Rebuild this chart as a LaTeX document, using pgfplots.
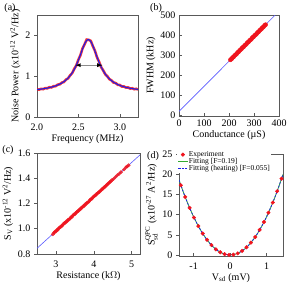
\documentclass[border=0pt]{standalone}
\usepackage{fontspec}
\setmainfont{Liberation Serif}
\usepackage{amsmath}
\usepackage{pgfplots}
\pgfplotsset{compat=1.18}
\definecolor{myred}{RGB}{240,20,30}
\definecolor{myblue}{RGB}{30,30,230}
\definecolor{lblue}{RGB}{90,90,255}
\definecolor{mygreen}{RGB}{50,170,50}
\begin{document}
\begin{tikzpicture}
\useasboundingbox (0,0) rectangle (292pt,282pt);
\pgfplotsset{
  every axis/.append style={
    scale only axis,
    anchor=north west,
    font=\fontsize{10}{12}\selectfont,
    /pgf/number format/assume math mode=true,
    axis line style={black!65},
    tick style={black!65, line width=0.5pt},
    major tick length=3pt,
    xtick pos=bottom, ytick pos=left,
    tick label style={font=\fontsize{10}{12}\selectfont},
    label style={font=\fontsize{10}{12}\selectfont},
    ylabel style={yshift=-2pt},
    xlabel style={yshift=3pt},
  },
}
% ---------------- (a)
\node[font=\fontsize{10}{12}\selectfont] at (10pt,274pt) {(a)};
\begin{axis}[at={(37pt,267pt)}, width=101pt, height=102pt,
  xmin=2.0, xmax=3.22, ymin=0, ymax=2.5,
  xtick={2.0,2.5,3.0}, ytick={0,1,2},
  xticklabel style={/pgf/number format/.cd, fixed, fixed zerofill, precision=1},
  tick align=outside, x tick style={yshift=3pt},
  xlabel={Frequency (MHz)},
  ylabel={Noise Power (x10$^{\text{-12}}$ V$^{\text{2}}$/Hz)}]
\addplot[myred, line width=2.6pt, opacity=0.85] coordinates {
(2.000,0.682)(2.025,0.670)(2.050,0.690)(2.075,0.682)(2.100,0.708)(2.125,0.703)
(2.150,0.730)(2.175,0.725)(2.200,0.754)(2.225,0.755)(2.250,0.794)(2.275,0.800)
(2.300,0.842)(2.325,0.858)(2.350,0.917)(2.375,0.946)(2.400,1.022)(2.425,1.073)
(2.450,1.181)(2.475,1.262)(2.500,1.405)(2.525,1.516)(2.550,1.682)(2.575,1.783)
(2.600,1.897)(2.625,1.890)(2.650,1.865)(2.675,1.734)(2.700,1.624)(2.725,1.462)
(2.750,1.352)(2.775,1.221)(2.800,1.142)(2.825,1.044)(2.850,0.998)(2.875,0.926)
(2.900,0.898)(2.925,0.844)(2.950,0.833)(2.975,0.790)(3.000,0.784)(3.025,0.747)
(3.050,0.749)(3.075,0.719)(3.100,0.726)(3.125,0.696)(3.150,0.704)(3.175,0.681)
(3.200,0.691)(3.220,0.671)};
\addplot[myblue, line width=1.1pt, smooth] coordinates {
(2.000,0.672)(2.025,0.678)(2.050,0.684)(2.075,0.692)(2.100,0.700)(2.125,0.709)
(2.150,0.720)(2.175,0.733)(2.200,0.747)(2.225,0.764)(2.250,0.784)(2.275,0.807)
(2.300,0.834)(2.325,0.867)(2.350,0.907)(2.375,0.954)(2.400,1.013)(2.425,1.083)
(2.450,1.169)(2.475,1.272)(2.500,1.393)(2.525,1.528)(2.550,1.667)(2.575,1.793)
(2.600,1.877)(2.620,1.900)(2.650,1.850)(2.675,1.746)(2.700,1.612)(2.725,1.472)
(2.750,1.342)(2.775,1.229)(2.800,1.133)(2.825,1.053)(2.850,0.988)(2.875,0.934)
(2.900,0.890)(2.925,0.853)(2.950,0.823)(2.975,0.797)(3.000,0.775)(3.025,0.757)
(3.050,0.741)(3.075,0.727)(3.100,0.716)(3.125,0.705)(3.150,0.696)(3.175,0.689)
(3.200,0.682)(3.220,0.677)};
\addplot[black!45, line width=0.8pt, {<[black]}-{>[black]}, >=latex] coordinates {(2.465,1.27)(2.79,1.27)};
\end{axis}
% ---------------- (b)
\node[font=\fontsize{10}{12}\selectfont] at (156pt,274pt) {(b)};
\begin{axis}[at={(179pt,267pt)}, width=100pt, height=101pt,
  xmin=0, xmax=400, ymin=-3, ymax=500,
  xtick={0,100,200,300,400}, ytick={0,100,200,300,400,500},
  tick align=inside,
  xlabel={Conductance (µS)},
  ylabel={FWHM (kHz)}]
\addplot[lblue, line width=0.6pt] coordinates {(0,20)(385,500)};
\addplot[only marks, mark=*, mark size=2pt, myred, opacity=0.8] coordinates {
(205,276)(207,279)(210,280)(212,285)(215,289)(217,290)(220,293)(222,298)(225,301)
(227,303)(230,305)(232,310)(235,314)(237,316)(240,318)(242,323)(245,326)(247,328)
(250,331)(252,336)(255,339)(257,340)(260,343)(262,348)(265,351)(267,352)(270,356)
(272,361)(275,364)(277,365)(280,368)(282,373)(285,376)(287,377)(290,380)(292,386)
(295,389)(297,390)(300,393)(302,398)(305,401)(307,402)(310,405)(312,410)(315,414)
(317,415)(320,418)(322,423)(325,426)(327,428)(330,430)(332,436)(335,438)(337,440)
(340,443)(342,448)(345,451)(347,452)};
\end{axis}
% ---------------- (c)
\node[font=\fontsize{10}{12}\selectfont] at (8pt,132pt) {(c)};
\begin{axis}[at={(37pt,129pt)}, width=103pt, height=101pt,
  xmin=2.5, xmax=5.22, ymin=0.8, ymax=1.6,
  xtick={3,4,5}, ytick={0.8,1.0,1.2,1.4,1.6},
  yticklabel style={/pgf/number format/.cd, fixed, fixed zerofill, precision=1},
  tick align=outside, x tick style={yshift=3pt},
  xlabel={Resistance (k$\Omega$)},
  ylabel={S$_{\text{V}}$ (x10$^{\text{-12}}$ V$^{\text{2}}$/Hz)}]
\addplot[lblue, line width=0.6pt] coordinates {(2.5,0.845)(5.22,1.585)};
\addplot[only marks, mark=*, mark size=1.7pt, myred, opacity=0.8] coordinates {
(2.92,0.956)(2.95,0.968)(2.97,0.975)(3.00,0.979)(3.02,0.989)(3.05,0.992)(3.07,1.003)
(3.10,1.010)(3.12,1.012)(3.15,1.024)(3.17,1.025)(3.20,1.038)(3.22,1.044)(3.25,1.048)
(3.27,1.057)(3.30,1.060)(3.32,1.071)(3.35,1.075)(3.37,1.080)(3.40,1.092)(3.42,1.093)
(3.45,1.106)(3.47,1.112)(3.50,1.115)(3.52,1.124)(3.55,1.132)(3.57,1.138)(3.60,1.142)
(3.62,1.152)(3.65,1.155)(3.67,1.166)(3.70,1.170)(3.72,1.179)(3.75,1.182)(3.77,1.193)
(3.80,1.197)(3.82,1.206)(3.85,1.210)(3.87,1.216)(3.90,1.228)(3.92,1.233)(3.95,1.238)
(3.97,1.247)(4.00,1.255)(4.02,1.261)(4.05,1.265)(4.07,1.275)(4.10,1.280)(4.12,1.288)
(4.15,1.292)(4.17,1.301)(4.20,1.306)(4.22,1.315)(4.25,1.320)(4.27,1.329)(4.30,1.333)
(4.32,1.342)(4.35,1.348)(4.37,1.356)(4.40,1.362)(4.42,1.369)(4.45,1.376)(4.48,1.386)
(4.52,1.394)(4.57,1.409)(4.62,1.424)(4.67,1.435)(4.72,1.449)(4.80,1.470)(4.85,1.487)
(4.88,1.493)(4.92,1.503)};
\end{axis}
% ---------------- (d)
\node[font=\fontsize{10}{12}\selectfont] at (153pt,126pt) {(d)};
\begin{axis}[at={(179pt,128pt)}, width=104pt, height=102pt,
  xmin=-1.4, xmax=1.45, ymin=-0.2, ymax=25,
  xtick={-1,0,1}, ytick={0,5,10,15,20,25},
  tick align=outside, x tick style={yshift=3pt},
  xlabel={V$_{\text{sd}}$ (mV)},
  ylabel={S$_{\text{sd}}^{\text{QPC}}$ (x10$^{\text{-27}}$ A$^{\text{2}}$/Hz)},
  legend cell align=left,
  legend style={at={(rel axis cs:-0.02,1.04)}, anchor=north west, draw=none, fill=white,
    font=\fontsize{7.5}{8}\selectfont, row sep=-1.2pt, inner sep=0.5pt,
    nodes={inner sep=0.8pt}},
  legend image code/.code={\draw[mark repeat=2,mark phase=2,#1] plot coordinates {(0cm,0cm)(0.17cm,0cm)(0.34cm,0cm)};}]
\addplot[only marks, mark=*, mark size=1.8pt, myred] coordinates {
(-1.35,17.3)(-1.23,14.4)(-1.11,11.7)(-0.99,9.3)(-0.87,7.2)(-0.75,5.35)(-0.63,3.8)
(-0.51,2.5)(-0.39,1.45)(-0.27,0.72)(-0.15,0.25)(-0.03,0.08)
(0.09,0.12)(0.21,0.45)(0.33,1.05)(0.45,1.95)(0.57,3.1)(0.69,4.5)(0.81,6.25)
(0.93,8.2)(1.05,10.5)(1.17,13.0)(1.29,15.8)(1.41,18.9)};
\addlegendentry{Experiment}
\addplot[mygreen, line width=0.8pt, smooth] coordinates {
(-1.40,18.62)(-1.30,16.06)(-1.20,13.68)(-1.10,11.50)(-1.00,9.50)(-0.90,7.70)
(-0.80,6.08)(-0.70,4.66)(-0.60,3.42)(-0.50,2.38)(-0.40,1.53)(-0.30,0.88)
(-0.20,0.43)(-0.10,0.16)(0.00,0.08)(0.10,0.16)(0.20,0.43)(0.30,0.88)(0.40,1.53)
(0.50,2.38)(0.60,3.42)(0.70,4.66)(0.80,6.08)(0.90,7.70)(1.00,9.50)(1.10,11.50)
(1.20,13.68)(1.30,16.06)(1.40,18.62)(1.45,19.97)};
\addlegendentry{Fitting [F=0.19]}
\addplot[myblue, line width=0.8pt, dashed, dash pattern=on 2pt off 1.5pt, smooth] coordinates {
(-1.40,18.62)(-1.30,16.06)(-1.20,13.68)(-1.10,11.50)(-1.00,9.50)(-0.90,7.70)
(-0.80,6.08)(-0.70,4.66)(-0.60,3.42)(-0.50,2.38)(-0.40,1.53)(-0.30,0.88)
(-0.20,0.43)(-0.10,0.16)(0.00,0.08)(0.10,0.16)(0.20,0.43)(0.30,0.88)(0.40,1.53)
(0.50,2.38)(0.60,3.42)(0.70,4.66)(0.80,6.08)(0.90,7.70)(1.00,9.50)(1.10,11.50)
(1.20,13.68)(1.30,16.06)(1.40,18.62)(1.45,19.97)};
\addlegendentry{Fitting (heating) [F=0.055]}
\end{axis}
\end{tikzpicture}
\end{document}
